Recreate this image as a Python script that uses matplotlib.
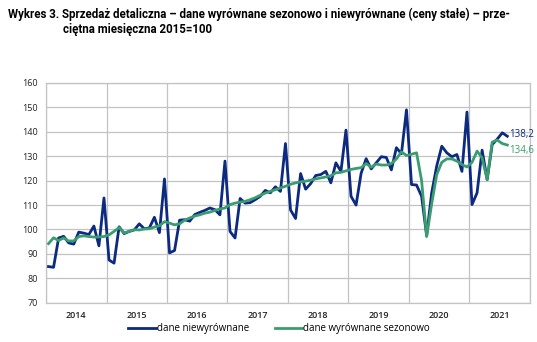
import matplotlib
matplotlib.use("Agg")
import matplotlib.pyplot as plt
import numpy as np

years = ["2014", "2015", "2016", "2017", "2018", "2019", "2020", "2021"]

# Monthly values Jan 2014 - Aug 2021
niewyrownane = [
    84.8, 84.5, 96.5, 97.2, 94.5, 94.0, 98.9, 98.5, 97.9, 101.4, 93.3, 112.9,
    87.5, 86.2, 101.1, 98.3, 99.2, 99.8, 102.3, 100.3, 100.6, 105.0, 98.7, 120.7,
    90.4, 91.4, 103.8, 104.0, 103.4, 106.1, 107.0, 107.8, 108.8, 108.1, 106.0, 128.0,
    99.2, 96.5, 112.7, 110.8, 111.0, 112.2, 113.6, 116.0, 115.0, 117.5, 115.6, 135.2,
    108.0, 104.5, 122.9, 116.5, 118.8, 122.1, 122.5, 123.8, 119.1, 127.3, 123.8, 140.7,
    113.6, 110.0, 123.0, 129.0, 124.8, 127.3, 129.8, 129.5, 124.4, 133.5, 131.0, 149.0,
    118.4, 118.2, 113.6, 97.5, 115.0, 126.0, 134.1, 131.4, 129.8, 130.7, 123.8, 148.1,
    110.2, 115.0, 132.5, 120.4, 134.8, 137.0, 139.6, 138.2,
]
wyrownane = [
    94.2, 96.6, 95.5, 96.5, 95.3, 95.3, 97.1, 97.4, 97.1, 96.9, 96.9, 97.1,
    97.8, 99.2, 100.8, 98.6, 99.2, 99.9, 99.8, 100.2, 100.3, 101.0, 101.5, 103.2,
    102.6, 101.9, 102.3, 103.8, 104.7, 105.5, 106.0, 106.7, 107.1, 107.8, 108.4, 108.8,
    110.2, 110.8, 111.2, 111.5, 112.2, 113.0, 114.0, 114.9, 115.6, 116.3, 117.0, 117.7,
    118.5, 119.1, 119.5, 119.8, 120.2, 120.7, 121.1, 121.5, 122.0, 123.2, 123.4, 124.0,
    124.6, 125.0, 125.3, 127.0, 125.5, 126.8, 126.4, 126.4, 127.0, 128.9, 131.8, 130.3,
    130.8, 131.4, 120.0, 97.1, 110.5, 122.5, 127.5, 128.9, 128.9, 128.0, 126.6, 125.6,
    127.5, 132.1, 129.3, 120.4, 135.8, 136.6, 135.2, 134.6,
]
yticks = [70, 80, 90, 100, 110, 120, 130, 140, 150, 160]
legend_labels = ["dane niewyrównane", "dane wyrównane sezonowo"]
last_labels = ["138,2", "134,6"]

BLUE = "#0b2a80"
GREEN = "#3a9d6f"
GRID = "#c3c3c3"

plt.rcParams["font.family"] = ["Open Sans", "DejaVu Sans"]

fig = plt.figure(figsize=(5.37, 3.42), dpi=100)
ax = fig.add_axes([46 / 537, 1 - 302.7 / 342, 484 / 537, (302.7 - 83) / 342])

n_years = len(years)
x1 = np.arange(len(niewyrownane)) + 0.5
x2 = np.arange(len(wyrownane)) + 0.5

ax.plot(x1, niewyrownane, color=BLUE, lw=2.0, zorder=3, label=legend_labels[0])
ax.plot(x2, wyrownane, color=GREEN, lw=2.0, zorder=4, label=legend_labels[1])

ax.set_xlim(0, 12 * n_years)
ax.set_ylim(70, 160)
ax.set_yticks(yticks)
ax.set_yticklabels([str(v) for v in yticks], fontsize=6.5, color="#222222")
ax.set_xticks(np.arange(0, 12 * n_years + 1, 12))
ax.set_xticklabels([])
ax.set_xticks(np.arange(6, 12 * n_years, 12), minor=True)
ax.set_xticklabels(years, minor=True, fontsize=6.5, fontweight="semibold", color="#222222")
ax.tick_params(axis="both", which="both", length=0)
ax.tick_params(axis="x", which="minor", pad=6)
ax.tick_params(axis="y", pad=6)
ax.grid(True, which="major", color=GRID, lw=0.9)
ax.set_axisbelow(True)
for s in ax.spines.values():
    s.set_color(GRID)
    s.set_linewidth(0.9)

ax.annotate(last_labels[0], xy=(x1[-1], niewyrownane[-1]), xytext=(1, 1),
            textcoords="offset points", color=BLUE, fontsize=7, va="center", ha="left",
            zorder=5)
ax.annotate(last_labels[1], xy=(x2[-1], wyrownane[-1]), xytext=(1, -4),
            textcoords="offset points", color=GREEN, fontsize=7, va="center", ha="left",
            zorder=5)

fig.legend(loc="center", bbox_to_anchor=(0.52, 1 - 329 / 342), ncol=2, frameon=False,
           fontsize=7, handlelength=2.8, handletextpad=0.15, columnspacing=2.6)

fig.text(8 / 537, 1 - 14 / 342,
         "Wykres 3. Sprzedaż detaliczna – dane wyrównane sezonowo i niewyrównane (ceny stałe) – prze-",
         fontsize=8.3, fontweight="bold", va="center", ha="left",
         family=["Roboto", "DejaVu Sans"])
fig.text(63 / 537, 1 - 29 / 342, "ciętna miesięczna 2015=100",
         fontsize=8.3, fontweight="bold", va="center", ha="left",
         family=["Roboto", "DejaVu Sans"])

fig.savefig("out.png", dpi=100)
